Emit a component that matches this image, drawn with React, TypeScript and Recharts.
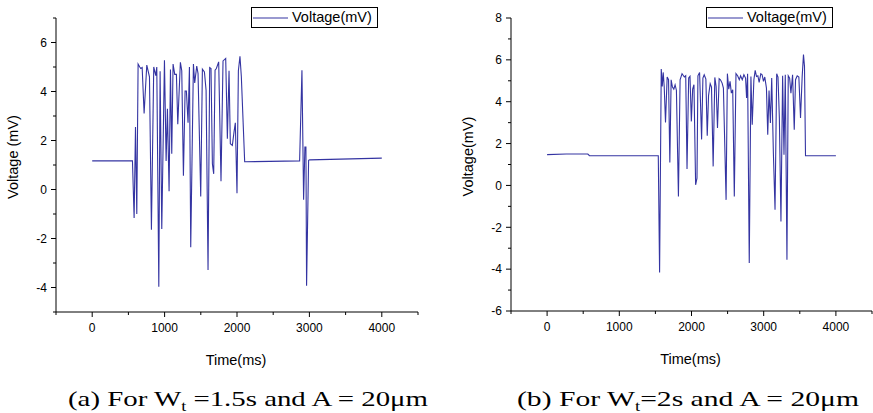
import React from 'react';
import { LineChart, Line, XAxis, YAxis, Legend } from 'recharts';

// ---------- data ----------
const timeA = [0, 556, 579, 598, 616, 634, 657, 671, 690, 717, 754, 791, 818, 850, 878, 892, 920, 938, 961, 998, 1021, 1039, 1062, 1081, 1099, 1117, 1140, 1163, 1182, 1218, 1237, 1260, 1283, 1301, 1324, 1343, 1361, 1398, 1416, 1444, 1462, 1499, 1522, 1550, 1573, 1600, 1623, 1641, 1660, 1678, 1697, 1715, 1747, 1779, 1807, 1844, 1867, 1890, 1908, 1936, 1959, 1977, 2000, 2019, 2041, 2060, 2106, 2865, 2897, 2920, 2938, 2952, 2961, 2989, 3003, 4000];
const voltA = [1.17, 1.17, -1.16, 2.55, -1.0, 5.12, 5.0, 4.94, 4.98, 3.1, 5.08, 4.6, -1.64, 5.0, 4.65, 5.0, -3.97, 4.83, -1.61, 5.28, 1.16, 3.3, -0.07, 4.9, 1.46, 5.12, 4.7, 4.7, 2.66, 5.19, 4.85, 0.56, 4.02, 4.02, 2.73, 5.0, -2.36, 5.12, 4.35, 5.04, 4.73, -0.29, 4.91, 4.8, 4.05, -3.29, 4.98, 4.94, 1.05, 0.64, 4.87, 4.94, 5.21, 0.34, 5.25, 5.35, 2.07, 4.85, 1.87, 1.8, 2.35, 2.72, -0.15, 4.85, 5.44, 4.6, 1.13, 1.17, 4.87, -0.42, 1.73, 1.73, -3.93, 1.19, 1.21, 1.28];

const timeB = [0, 266, 564, 587, 1540, 1558, 1581, 1595, 1608, 1622, 1640, 1663, 1682, 1700, 1718, 1736, 1755, 1773, 1791, 1819, 1842, 1869, 1901, 1920, 1938, 1961, 1979, 1998, 2016, 2034, 2057, 2076, 2089, 2112, 2140, 2158, 2176, 2199, 2218, 2236, 2259, 2277, 2300, 2323, 2341, 2360, 2383, 2401, 2424, 2442, 2479, 2497, 2516, 2534, 2552, 2571, 2593, 2616, 2639, 2662, 2680, 2703, 2726, 2749, 2763, 2777, 2800, 2823, 2841, 2864, 2882, 2900, 2919, 2937, 2960, 2978, 2997, 3015, 3038, 3056, 3074, 3093, 3111, 3134, 3157, 3180, 3198, 3217, 3239, 3262, 3281, 3299, 3322, 3340, 3359, 3377, 3400, 3423, 3441, 3464, 3487, 3510, 3533, 3551, 3565, 3579, 4000];
const voltB = [1.47, 1.5, 1.5, 1.42, 1.42, -4.16, 5.56, 4.73, 5.4, 4.73, 3.01, 5.18, 5.05, 1.1, 5.05, 4.7, 4.6, 4.81, 4.55, -0.53, 5.05, 5.34, 5.18, 5.24, 0.78, 5.13, 5.21, 3.06, 4.6, 4.81, 0.03, 0.35, 5.24, 5.4, 2.2, 5.13, 5.29, 5.08, 2.37, 4.29, 4.86, 4.7, 0.91, 5.16, 4.73, 2.74, 5.1, 5.05, 4.89, 4.65, -0.69, 5.34, 4.6, 4.97, 4.41, 4.57, -0.53, 5.34, 5.24, 5.05, 5.24, 5.05, 5.29, 5.13, 4.18, 5.34, -3.71, 5.21, 2.9, 5.05, 5.5, 5.21, 5.24, 4.92, 5.34, 5.29, 4.97, 5.18, 4.65, 2.42, 4.54, 2.98, 5.13, 1.55, -1.16, 5.34, 5.18, 3.22, -1.72, 5.24, 1.47, 5.29, -3.55, 5.24, 5.13, 4.41, 5.29, 2.66, 5.05, 5.24, 5.18, 3.22, 5.21, 6.25, 5.69, 1.42, 1.42];

const xTicks = [-500, 0, 500, 1000, 1500, 2000, 2500, 3000, 3500, 4000, 4500];
const yTicksA = [-5, -4, -3, -2, -1, 0, 1, 2, 3, 4, 5, 6, 7];
const yTicksB = [-6, -5, -4, -3, -2, -1, 0, 1, 2, 3, 4, 5, 6, 7, 8];

const seriesName = 'Voltage(mV)';

const dataA = timeA.map((t, i) => ({ t, v: voltA[i] }));
const dataB = timeB.map((t, i) => ({ t, v: voltB[i] }));

// ---------- styles ----------
const SANS = '"Liberation Sans", Arial, sans-serif';
const SERIF = '"Liberation Serif", "Times New Roman", serif';
const LINE_COLOR = '#3434a2';

const XTick = (props: any) => {
  const { x, y, payload } = props;
  const v = payload.value;
  const major = v % 1000 === 0;
  return (
    <g>
      <line x1={x} x2={x} y1={y} y2={y + (major ? 5 : 3)} stroke="#000" strokeWidth={1} />
      {major && (
        <text x={x} y={y + 20} textAnchor="middle" fontSize={12} fontFamily={SANS} fill="#000">
          {v}
        </text>
      )}
    </g>
  );
};

const YTick = (props: any) => {
  const { x, y, payload } = props;
  const v = payload.value;
  const major = v % 2 === 0;
  return (
    <g>
      <line x1={x} x2={x - (major ? 5 : 3)} y1={y} y2={y} stroke="#000" strokeWidth={1} />
      {major && (
        <text x={x - 9} y={y + 4.3} textAnchor="end" fontSize={12} fontFamily={SANS} fill="#000">
          {v}
        </text>
      )}
    </g>
  );
};

const YTitle = (props: any) => {
  const { viewBox, text, dxc, dyc } = props;
  const cx = viewBox.x + dxc;
  const cy = viewBox.y + viewBox.height / 2 + dyc;
  return (
    <text
      x={cx}
      y={cy}
      transform={`rotate(-90 ${cx} ${cy})`}
      textAnchor="middle"
      dominantBaseline="central"
      fontSize={14.5}
      fontFamily={SANS}
      fill="#000"
    >
      {text}
    </text>
  );
};

const XTitle = (props: any) => {
  const { viewBox, text } = props;
  const cx = viewBox.x + viewBox.width / 2 - 1;
  const cy = viewBox.y + 53;
  return (
    <text x={cx} y={cy} textAnchor="middle" fontSize={14.5} fontFamily={SANS} fill="#000">
      {text}
    </text>
  );
};

const LegendBox = () => (
  <div
    style={{
      boxSizing: 'border-box',
      width: 127,
      height: 21,
      border: '1px solid #000',
      background: '#fff',
      display: 'flex',
      alignItems: 'center',
      fontFamily: SANS,
      fontSize: 14.5,
      color: '#000',
      lineHeight: 1,
    }}
  >
    <svg width={38} height={10} style={{ display: 'block', flex: 'none' }}>
      <line x1={1} x2={36} y1={5} y2={5} stroke={LINE_COLOR} strokeWidth={1.2} />
    </svg>
    <span style={{ marginLeft: 2, whiteSpace: 'nowrap' }}>{seriesName}</span>
  </div>
);

interface PanelProps {
  data: { t: number; v: number }[];
  yDomain: [number, number];
  yTicks: number[];
  yTitle: string;
  width: number;
  height: number;
  yAxisWidth: number;
  rightMargin: number;
  titleDx: number;
  legendLeft: number;
}

const Panel = ({ data, yDomain, yTicks, yTitle, width, height, yAxisWidth, rightMargin, titleDx, legendLeft }: PanelProps) => (
  <LineChart width={width} height={height} data={data} margin={{ top: 18, right: rightMargin, bottom: 0, left: 0 }}>
    <XAxis
      dataKey="t"
      type="number"
      domain={[-500, 4500]}
      ticks={xTicks}
      interval={0}
      allowDataOverflow
      height={58}
      tickSize={0}
      tickMargin={0}
      tickLine={false}
      axisLine={{ stroke: '#000', strokeWidth: 1 }}
      tick={<XTick />}
      label={<XTitle text="Time(ms)" />}
    />
    <YAxis
      type="number"
      domain={yDomain}
      ticks={yTicks}
      interval={0}
      allowDataOverflow
      width={yAxisWidth}
      tickSize={0}
      tickMargin={0}
      tickLine={false}
      axisLine={{ stroke: '#000', strokeWidth: 1 }}
      tick={<YTick />}
      label={<YTitle text={yTitle} dxc={titleDx} dyc={-8} />}
    />
    <Legend
      layout="vertical"
      align="center"
      verticalAlign="middle"
      content={<LegendBox />}
      wrapperStyle={{ left: legendLeft, top: 7, width: 127, height: 21 }}
    />
    <Line
      type="linear"
      dataKey="v"
      name={seriesName}
      stroke={LINE_COLOR}
      strokeWidth={1.1}
      dot={false}
      activeDot={false}
      isAnimationActive={false}
    />
  </LineChart>
);

export default function App() {
  return (
    <div
      style={{
        position: 'absolute',
        left: 0,
        top: 0,
        width: 873,
        height: 413,
        background: '#fff',
        overflow: 'hidden',
      }}
    >
      <div style={{ position: 'absolute', left: 0, top: 0 }}>
        <Panel
          data={dataA}
          yDomain={[-5, 7]}
          yTicks={yTicksA}
          yTitle="Voltage (mV)"
          width={430}
          height={370}
          yAxisWidth={56}
          rightMargin={12}
          titleDx={13}
          legendLeft={251}
        />
      </div>
      <div style={{ position: 'absolute', left: 440, top: 0 }}>
        <Panel
          data={dataB}
          yDomain={[-6, 8]}
          yTicks={yTicksB}
          yTitle="Voltage(mV)"
          width={433}
          height={369}
          yAxisWidth={71}
          rightMargin={1}
          titleDx={28}
          legendLeft={266}
        />
      </div>
      <svg
        width={873}
        height={413}
        style={{ position: 'absolute', left: 0, top: 0, pointerEvents: 'none' }}
      >
        <text
          x={68}
          y={406}
          fontSize={22}
          fontFamily={SERIF}
          fill="#000"
          textLength={360}
          lengthAdjust="spacingAndGlyphs"
        >
          (a) For W
          <tspan fontSize={14} dy={5}>t</tspan>
          <tspan dy={-5}> =1.5s and A = 20μm</tspan>
        </text>
        <text
          x={517}
          y={406}
          fontSize={22}
          fontFamily={SERIF}
          fill="#000"
          textLength={342}
          lengthAdjust="spacingAndGlyphs"
        >
          (b) For W
          <tspan fontSize={14} dy={5}>t</tspan>
          <tspan dy={-5}>=2s and A = 20μm</tspan>
        </text>
      </svg>
    </div>
  );
}
